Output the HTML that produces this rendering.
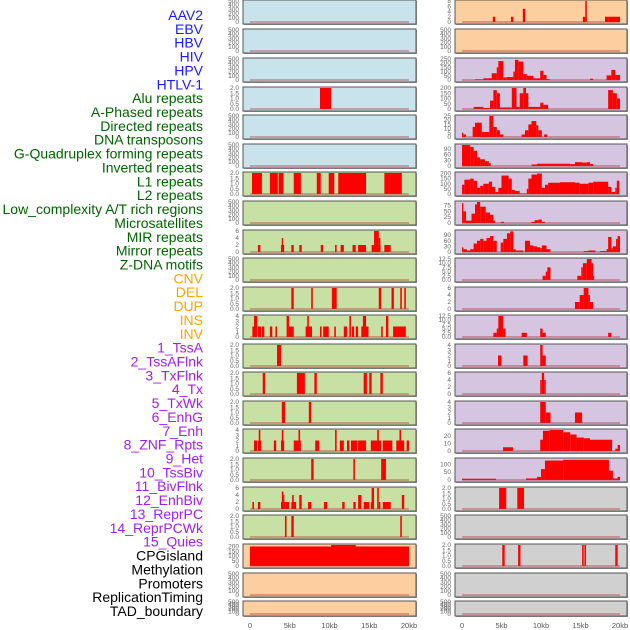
<!DOCTYPE html>
<html><head><meta charset="utf-8"><style>
html,body{margin:0;padding:0;background:#fff;}
svg{display:block;font-family:"Liberation Sans",sans-serif;}
</style></head><body>
<svg id="c" width="630" height="630" viewBox="0 0 630 630" xmlns="http://www.w3.org/2000/svg">
<g id="labels"></g>
<g id="panels"></g>
<g id="xaxis"></g>
</svg>
<script>
const trackLabels=["AAV2","EBV","HBV","HIV","HPV","HTLV-1","Alu repeats","A-Phased repeats","Directed repeats","DNA transposons","G-Quadruplex forming repeats","Inverted repeats","L1 repeats","L2 repeats","Low_complexity A/T rich regions","Microsatellites","MIR repeats","Mirror repeats","Z-DNA motifs","CNV","DEL","DUP","INS","INV","1_TssA","2_TssAFlnk","3_TxFlnk","4_Tx","5_TxWk","6_EnhG","7_Enh","8_ZNF_Rpts","9_Het","10_TssBiv","11_BivFlnk","12_EnhBiv","13_ReprPC","14_ReprPCWk","15_Quies","CPGisland","Methylation","Promoters","ReplicationTiming","TAD_boundary"];
const labelGroups=[6,13,5,15,5];
const groupColors=["#1a1aff","#006400","#ffa500","#a020f0","#000000"];
const xTickValues=[0,5,10,15,20];
const xTickLabels=["0","5kb","10kb","15kb","20kb"];
const rowTops=[0,29,58,87,115,144,172,201,230,258,287,315,344,372,401,429,458,487,515,544,573,601];
const leftColors=["#c9e3ec","#c9e3ec","#c9e3ec","#c9e3ec","#c9e3ec","#c9e3ec","#c8e0a4","#c8e0a4","#c8e0a4","#c8e0a4","#c8e0a4","#c8e0a4","#c8e0a4","#c8e0a4","#c8e0a4","#c8e0a4","#c8e0a4","#c8e0a4","#c8e0a4","#fdcf9e","#fdcf9e","#fdcf9e"];
const rightColors=["#fdcf9e","#fdcf9e","#d5c5e0","#d5c5e0","#d5c5e0","#d5c5e0","#d5c5e0","#d5c5e0","#d5c5e0","#d5c5e0","#d5c5e0","#d5c5e0","#d5c5e0","#d5c5e0","#d5c5e0","#d5c5e0","#d5c5e0","#d0d0d0","#d0d0d0","#d0d0d0","#d0d0d0","#d0d0d0"];
const E=[0,100,200,300,400,500], T2=[0,0.5,1,1.5,2], T4=[0,1,2,3,4], T6=[0,2,4,6], T12=[0,2.5,5,7.5,10,12.5];
const leftTicks=[E,E,E,T2,E,E,T2,E,T6,E,T2,T4,T2,T2,T2,T4,T2,T6,T2,[0,50,100,150,200],E,E];
const leftMax=[500,500,500,2,500,500,2,500,6,500,2,4,2,2,2,4,2,6,2,215,500,500];
const leftData=[[],[],[],
[[8.8,10.2,2]],[],[],
[[0.25,1.5,2],[2.5,3.5,2],[3.6,4.2,2],[5.5,6.4,2],[8.4,8.9,2],[9.9,10.6,2],[11.1,14.6,2],[16.9,19.1,2]],
[],
[[1.0,1.3,2],[3.9,4.3,2],[4.0,4.15,4],[5.2,5.5,2],[6.2,6.5,2],[8.9,9.2,2],[10.7,10.9,2],[11.4,11.8,2],[12.9,13.3,2],[13.6,14.6,2],[15.3,16.4,2],[15.6,16.2,6],[16.2,16.4,4],[16.9,17.7,2]],
[],
[[5.2,5.5,2],[7.7,7.9,2],[10.3,10.9,2],[16.2,16.5,2],[17.8,18.1,2],[18.9,19.1,2],[19.4,19.6,2]],
[[0.3,0.9,2],[0.5,0.9,4],[1.0,1.4,2],[1.5,1.8,2],[2.5,2.8,2],[3.2,3.4,2],[4.6,4.9,4],[4.9,5.5,2],[7.0,7.8,2],[7.2,7.4,4],[8.8,9.0,2],[9.2,9.9,2],[10.6,10.8,2],[11.8,12.2,2],[12.5,12.7,4],[12.8,13.1,2],[13.3,13.6,2],[14.0,14.9,2],[14.2,14.6,4],[16.5,16.7,2],[17.1,17.4,4],[18.0,19.6,2]],
[[3.4,3.9,2]],
[[1.6,1.9,2],[5.9,6.9,2],[8.1,8.4,2],[14.3,14.7,2],[15.0,15.3,2],[16.4,16.7,2]],
[[4.0,4.4,2],[7.4,7.7,2]],
[[0.5,0.9,2],[1.0,1.4,2],[1.1,1.3,4],[3.0,3.3,2],[3.9,4.3,2],[4.0,4.2,4],[5.5,6.4,2],[6.1,6.3,4],[8.2,8.7,2],[10.7,10.9,4],[11.3,11.8,2],[12.2,12.5,2],[12.7,13.5,2],[13.6,14.6,2],[15.2,16.5,2],[16.0,16.2,4],[16.7,17.9,2],[18.4,19.4,2],[18.8,19.0,4],[19.7,20.0,2]],
[[7.7,8.0,2],[13.0,13.2,2],[16.5,17.1,2]],
[[0.3,0.5,2],[1.0,1.3,2],[3.9,4.5,2],[4.0,4.2,5],[4.2,4.3,4],[4.5,4.9,2],[5.2,5.8,2],[5.3,5.5,4],[6.2,6.5,4],[7.3,7.7,2],[9.3,9.7,2],[11.6,11.9,2],[13.0,13.3,2],[13.6,14.0,4],[14.3,15.0,2],[15.2,15.6,2],[15.3,15.6,6],[16.0,16.2,6],[16.2,16.4,2],[16.7,17.7,2],[19.1,19.4,4]],
[[4.4,4.6,2],[5.2,5.5,2],[18.9,19.1,2]],
[[0,20,200],[10.2,13.3,215]],
[],[]];
const rightTicks=[[0,2,4,6,8],E,[0,50,100,150,200,250],[0,50,100,150,200],[0,5,10,15,20,25],[0,30,60,90],[0,50,100,150,200],[0,25,50,75],[0,30,60,90],T12,T6,T12,T4,T6,T4,[0,10,20],[0,50,100],T2,E,T2,E,E];
const rightMax=[8,500,250,200,25,110,205,90,112,12.5,6,12.5,4,6,4,28,135,2,500,2,500,500];
const rightData=[
[[3.9,4.2,2],[6.2,6.5,2],[7.7,8.0,5],[15.3,15.6,2],[15.6,15.8,8],[18.1,18.5,2],[18.5,20,2]],
[],
[[1.65,2.7,8],[2.7,3.76,20],[3.76,4.4,80],[4.4,4.6,150],[4.6,5.23,225],[5.23,5.65,30],[5.65,6.5,35],[6.5,6.7,100],[6.7,7.13,240],[7.13,7.76,220],[7.76,8.2,70],[8.2,9.03,50],[9.03,9.9,20],[9.9,10.3,110],[10.3,10.7,60],[10.7,11.14,10],[16.2,16.6,15],[18.3,18.9,55],[18.9,19.4,120],[19.4,20,60]],
[[1.47,2.7,20],[2.7,3.55,10],[3.55,3.97,80],[3.97,4.4,180],[4.4,4.8,150],[4.8,6.3,15],[6.3,6.9,200],[6.9,7.3,20],[7.3,7.76,150],[7.76,8.1,200],[8.1,8.4,150],[8.4,9.9,20],[9.9,10.3,60],[10.3,10.9,40],[18.5,19.1,180],[19.1,19.6,150],[19.6,20,100]],
[[0,0.17,5],[0.17,0.5,3],[1.35,1.65,12],[1.65,2.5,17],[2.5,2.9,6],[2.9,3.46,6],[3.46,3.97,25],[3.97,4.4,12],[4.4,4.8,8],[4.8,5.23,3],[7.55,7.97,3],[7.97,8.4,8],[8.4,8.8,15],[8.8,9.4,19],[9.4,9.66,14],[9.66,10.1,8],[10.4,10.8,3]],
[[0,1.03,110],[1.03,1.47,100],[1.47,1.9,80],[1.9,2.3,45],[2.3,2.9,35],[2.9,3.4,25],[3.4,3.63,15],[8.8,9.5,8],[9.5,10.3,12],[10.3,13.7,12],[13.7,14.3,10],[14.3,15.2,20],[15.2,15.8,18],[15.8,16.2,20],[16.2,16.6,10]],
[[0,0.3,90],[0.3,1.03,140],[1.03,1.47,150],[1.47,1.9,130],[1.9,2.3,60],[2.3,2.7,80],[2.7,3.4,100],[3.4,3.8,120],[3.8,4.2,70],[4.2,4.6,20],[4.6,5.0,60],[5.0,5.9,180],[5.9,6.3,150],[6.3,6.7,40],[6.7,7.3,30],[7.3,8.2,5],[8.2,8.4,50],[8.4,8.8,150],[8.8,9.5,190],[9.5,10.1,200],[10.1,10.5,60],[10.5,10.9,90],[10.9,12.4,110],[12.4,14.3,115],[14.3,14.9,110],[14.9,16.0,100],[16.0,16.6,110],[16.6,18.5,120],[18.5,18.9,70],[18.9,19.4,20],[19.4,19.6,60],[19.6,19.9,130]],
[[0,0.17,85],[0.17,0.5,50],[0.5,1.2,10],[1.2,1.65,40],[1.65,1.9,80],[1.9,2.3,90],[2.3,3.0,70],[3.0,3.55,45],[3.55,3.97,35],[3.97,4.2,10],[4.9,5.3,5],[8.8,9.2,5],[9.2,9.66,12],[9.66,10.1,15],[10.1,10.5,5]],
[[0,0.17,25],[0.17,0.6,15],[0.6,1.03,8],[1.03,1.47,15],[1.47,1.9,45],[1.9,2.3,60],[2.3,2.7,70],[2.7,3.1,60],[3.1,3.55,75],[3.55,3.97,85],[3.97,4.4,60],[4.9,5.23,50],[5.23,5.7,70],[5.7,6.1,100],[6.1,6.5,110],[6.5,6.8,15],[6.8,7.76,8],[7.97,8.6,60],[8.6,9.03,35],[9.03,9.5,30],[9.5,9.9,25],[9.9,10.1,20],[10.1,10.7,35],[10.7,11.2,15],[15.4,16.0,5],[16.0,16.9,8],[17.5,18.3,5],[18.3,18.5,15],[18.5,18.9,80],[18.9,19.1,20],[19.1,19.5,30],[19.5,19.7,70],[19.7,20,85]],
[[10.2,10.6,2.5],[10.6,10.8,5],[10.8,11.2,7.5],[14.6,15.1,2.5],[15.1,15.3,7.5],[15.3,15.8,10],[15.8,16.4,12.5],[16.4,16.6,10],[16.6,16.7,2.5]],
[[14.3,14.9,2],[14.9,15.4,4],[15.4,16.0,6],[16.0,16.2,4],[16.2,16.6,2]],
[[3.97,4.4,2.5],[4.4,4.6,5],[4.6,5.2,12.5],[5.2,5.5,5],[7.55,8.2,2.5],[9.9,10.2,5],[10.2,10.6,2.5],[18.5,18.9,2.5]],
[[4.56,5.0,2],[7.76,8.3,2],[9.9,10.2,4],[10.2,10.6,2]],
[[9.9,10.1,4],[10.1,10.4,6],[10.4,10.6,4]],
[[9.9,10.6,4],[10.6,11.2,2],[14.3,15.2,2]],
[[5.2,6.45,5],[9.9,10.25,15],[10.25,11.1,27],[11.1,12.8,28],[12.8,13.7,25],[13.7,14.5,22],[14.5,15.4,18],[15.4,16.2,17],[16.2,19.0,15],[19.4,19.7,3],[19.7,20,8]],
[[0,4.3,8],[8.1,9.5,10],[9.5,10.0,20],[10.0,10.5,70],[10.5,12.8,125],[12.8,18.6,130],[18.6,19.1,60],[19.1,19.7,10],[19.7,20,20]],
[[4.7,5.6,2],[7.0,7.85,2]],
[],
[[5.1,5.4,2],[7.1,7.4,2],[15.2,15.4,2],[15.5,15.7,2],[19.4,19.7,2]],
[],[]];

const NS="http://www.w3.org/2000/svg";
function mk(tag,attrs,parent){const e=document.createElementNS(NS,tag);for(const k in attrs)e.setAttribute(k,attrs[k]);parent.appendChild(e);return e;}

const lg=document.getElementById('labels');
let gi=0,cnt=0;
trackLabels.forEach((t,i)=>{
  while(cnt>=labelGroups[gi]){cnt=0;gi++;}
  cnt++;
  const tx=mk('text',{x:203,y:15+i*13.86+5,'text-anchor':'end','font-size':'14',fill:groupColors[gi]},lg);
  
  
  tx.textContent=t;
});

const cols=[{x0:243,x1:416,z:250,t:409,colors:leftColors,ticks:leftTicks,max:leftMax,data:leftData,name:'left'},
            {x0:455,x1:627,z:462,t:620,colors:rightColors,ticks:rightTicks,max:rightMax,data:rightData,name:'right'}];
const pg=document.getElementById('panels');
cols.forEach(c=>{
  const xs=kb=>c.z+(c.t-c.z)*kb/20;
  rowTops.forEach((top,r)=>{
    const h=(r===rowTops.length-1)?15:24;
    const g=mk('g',{},pg);
    
    
    mk('rect',{x:c.x0+1,y:top+1,width:c.x1-c.x0,height:h,fill:'#999'},g);
    mk('rect',{x:c.x0,y:top,width:c.x1-c.x0,height:h,fill:c.colors[r],stroke:'#555','stroke-width':1},g);
    const y0=top+h-2, y1=top+1;
    const ys=v=>y0-(y0-y1)*v/c.max[r];
    c.data[r].forEach(s=>{
      const b=mk('rect',{x:xs(s[0]),y:ys(s[2]),width:Math.max(1,xs(s[1])-xs(s[0])),height:y0-ys(s[2]),fill:'#ff0000'},g);
      
      
    });
    mk('line',{x1:xs(0),x2:xs(20),y1:y0,y2:y0,stroke:'#b03030','stroke-opacity':0.5,'stroke-width':1.5},g);
    const dec=c.ticks[r].some(v=>v%1!==0);
    c.ticks[r].forEach(v=>{
      const tt=mk('text',{x:c.x0-4,y:ys(v)+2,'text-anchor':'end','font-size':'6.5',fill:'#666'},g);
      
      
      tt.textContent=dec?v.toFixed(1):String(v);
    });
  });
  const xg=document.getElementById('xaxis');
  xTickValues.forEach((v,i)=>{
    const tl=mk('text',{x:xs(v),y:628,'text-anchor':'middle','font-size':'7.5',fill:'#555'},xg);
    
    
    tl.textContent=xTickLabels[i];
  });
});
</script>
</body></html>
